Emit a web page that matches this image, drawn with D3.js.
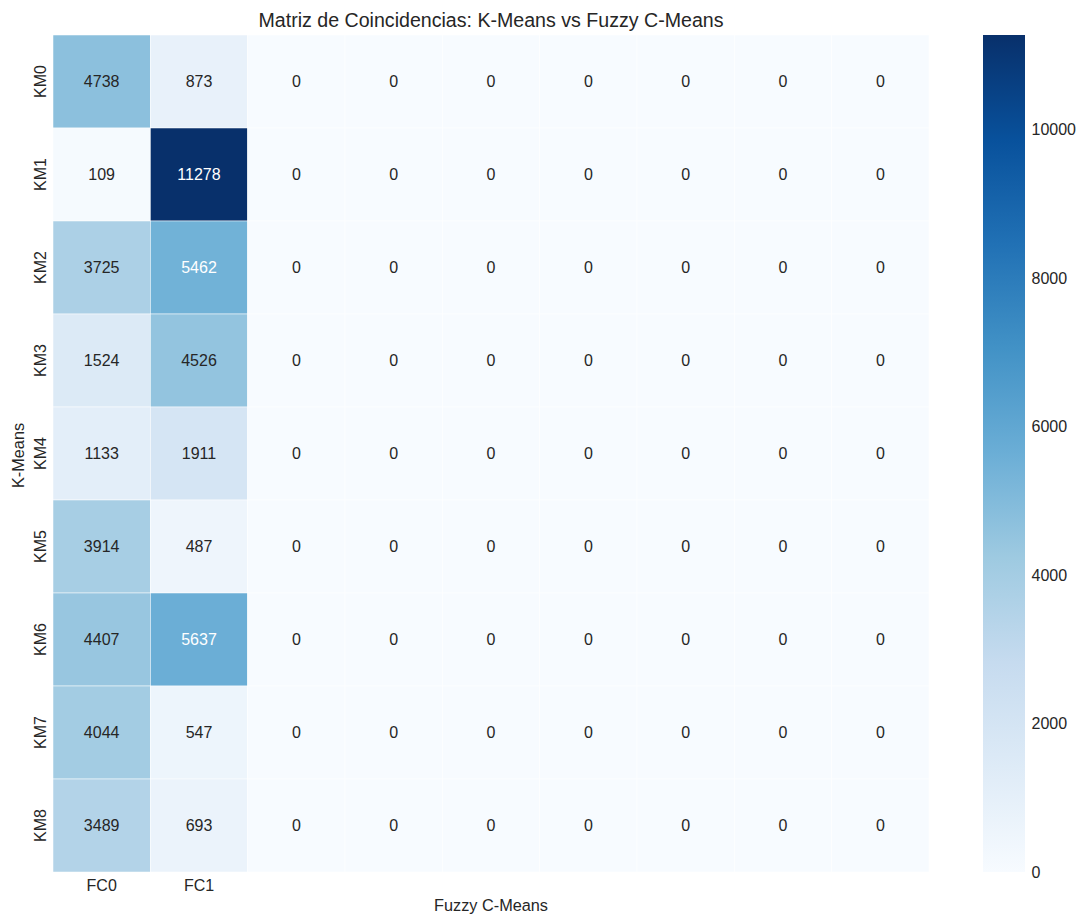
<!DOCTYPE html>
<html>
<head>
<meta charset="utf-8">
<script src="https://cdn.jsdelivr.net/npm/d3@7"></script>
<style>
  html, body { margin: 0; padding: 0; background: #fff; }
  svg { display: block; font-family: "Liberation Sans", Arial, sans-serif; }
</style>
</head>
<body>
<svg id="chart" width="1080" height="915"></svg>
<script>
// Row clusters (K-Means) and column clusters (Fuzzy C-Means)
const kmLabels = ["KM0", "KM1", "KM2", "KM3", "KM4", "KM5", "KM6", "KM7", "KM8"];
const fcColumns = [0, 1, 2, 3, 4, 5, 6, 7, 8];
const fcLabels = ["FC0", "FC1"];

// Counts per K-Means cluster, one array per Fuzzy C-Means column
const fc0 = [4738, 109, 3725, 1524, 1133, 3914, 4407, 4044, 3489];
const fc1 = [873, 11278, 5462, 4526, 1911, 487, 5637, 547, 693];
const fcRest = [0, 0, 0, 0, 0, 0, 0, 0, 0];

const colorbarTicks = [0, 2000, 4000, 6000, 8000, 10000];

// Blues colormap stops
const bluesStops = ["#f7fbff", "#deebf7", "#c6dbef", "#9ecae1", "#6baed6",
                    "#4292c6", "#2171b5", "#08519c", "#08306b"];

const svg = d3.select("#chart");
const textColor = "#262626";

const plotLeft = 53, plotRight = 929, plotTop = 35, plotBottom = 872;

const matrix = kmLabels.map((k, i) => fcColumns.map(c =>
  c === 0 ? fc0[i] : c === 1 ? fc1[i] : fcRest[i]));
const cells = [];
matrix.forEach((row, i) => row.forEach((v, j) => cells.push({ row: i, col: j, value: v })));

const vmax = d3.max(cells, d => d.value);
const vmin = 0;

const color = d3.scaleLinear()
  .domain(bluesStops.map((_, i) => vmin + (vmax - vmin) * i / (bluesStops.length - 1)))
  .range(bluesStops)
  .interpolate(d3.interpolateRgb)
  .clamp(true);

const x = d3.scaleBand().domain(fcColumns).range([plotLeft, plotRight]).padding(0);
const y = d3.scaleBand().domain(d3.range(kmLabels.length)).range([plotTop, plotBottom]).padding(0);

// relative luminance used to pick annotation colour
function luminance(c) {
  const rgb = d3.rgb(c);
  const f = v => { v /= 255; return v <= 0.03928 ? v / 12.92 : Math.pow((v + 0.055) / 1.055, 2.4); };
  return 0.2126 * f(rgb.r) + 0.7152 * f(rgb.g) + 0.0722 * f(rgb.b);
}

// heatmap cells
svg.append("g")
  .selectAll("rect")
  .data(cells)
  .join("rect")
  .attr("x", d => x(d.col))
  .attr("y", d => y(d.row))
  .attr("width", x.bandwidth())
  .attr("height", y.bandwidth())
  .attr("fill", d => color(d.value))
  .attr("stroke", "#ffffff")
  .attr("stroke-width", 0.5);

// annotations
svg.append("g")
  .selectAll("text")
  .data(cells)
  .join("text")
  .attr("x", d => x(d.col) + x.bandwidth() / 2)
  .attr("y", d => y(d.row) + y.bandwidth() / 2)
  .attr("text-anchor", "middle")
  .attr("dominant-baseline", "central")
  .attr("font-size", 16)
  .attr("fill", d => luminance(color(d.value)) > 0.408 ? textColor : "#ffffff")
  .text(d => d3.format("d")(d.value));

// x tick labels
svg.append("g")
  .selectAll("text")
  .data(fcLabels)
  .join("text")
  .attr("x", (d, i) => x(fcColumns[i]) + x.bandwidth() / 2)
  .attr("y", plotBottom + 19)
  .attr("text-anchor", "middle")
  .attr("font-size", 16)
  .attr("fill", textColor)
  .text(d => d);

// y tick labels (rotated)
svg.append("g")
  .selectAll("text")
  .data(kmLabels)
  .join("text")
  .attr("transform", (d, i) => `translate(${plotLeft - 7.5},${y(i) + y.bandwidth() / 2}) rotate(-90)`)
  .attr("text-anchor", "middle")
  .attr("font-size", 16)
  .attr("fill", textColor)
  .text(d => d);

// axis titles
svg.append("text")
  .attr("x", (plotLeft + plotRight) / 2)
  .attr("y", 911)
  .attr("text-anchor", "middle")
  .attr("font-size", 16.3)
  .attr("fill", textColor)
  .text("Fuzzy C-Means");

svg.append("text")
  .attr("transform", `translate(24,${(plotTop + plotBottom) / 2 + 2}) rotate(-90)`)
  .attr("text-anchor", "middle")
  .attr("font-size", 16.3)
  .attr("fill", textColor)
  .text("K-Means");

// chart title
svg.append("text")
  .attr("x", (plotLeft + plotRight) / 2)
  .attr("y", 27)
  .attr("text-anchor", "middle")
  .attr("font-size", 19.6)
  .attr("fill", textColor)
  .text("Matriz de Coincidencias: K-Means vs Fuzzy C-Means");

// colour bar
const cbX = 983, cbW = 42;
const cbScale = d3.scaleLinear().domain([vmin, vmax]).range([plotBottom, plotTop]);

const grad = svg.append("defs").append("linearGradient")
  .attr("id", "cbGrad")
  .attr("x1", 0).attr("y1", 1).attr("x2", 0).attr("y2", 0);
bluesStops.forEach((c, i) => {
  grad.append("stop")
    .attr("offset", i / (bluesStops.length - 1))
    .attr("stop-color", c);
});

svg.append("rect")
  .attr("x", cbX)
  .attr("y", plotTop)
  .attr("width", cbW)
  .attr("height", plotBottom - plotTop)
  .attr("fill", "url(#cbGrad)");

const cbAxis = d3.axisRight(cbScale)
  .tickValues(colorbarTicks)
  .tickFormat(d3.format("d"))
  .tickSize(0)
  .tickPadding(6.5);

const cbG = svg.append("g")
  .attr("transform", `translate(${cbX + cbW},0)`)
  .call(cbAxis);
cbG.select(".domain").remove();
cbG.selectAll("text")
  .attr("font-size", 16)
  .attr("font-family", "Liberation Sans, Arial, sans-serif")
  .attr("fill", textColor);
</script>
</body>
</html>
